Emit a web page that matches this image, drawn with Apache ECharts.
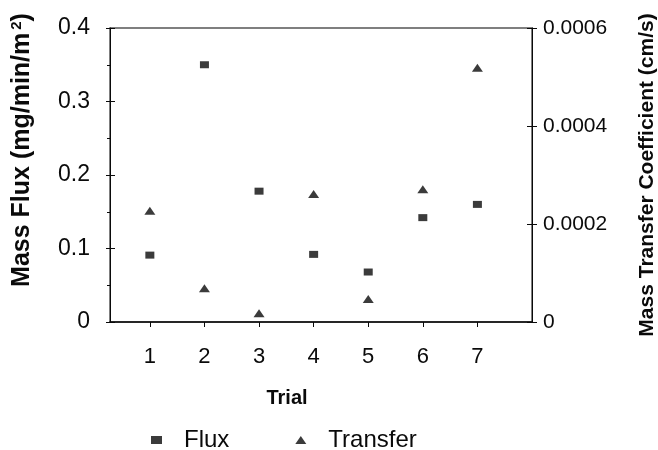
<!DOCTYPE html>
<html>
<head>
<meta charset="utf-8">
<script src="https://cdn.jsdelivr.net/npm/echarts@6/dist/echarts.min.js"></script>
<style>
  html, body { margin: 0; padding: 0; background: #fff; }
  #chart { width: 658px; height: 450px; }
</style>
</head>
<body>
<div id="chart"></div>
<script>
// trials 1..7
var trials = [1, 2, 3, 4, 5, 6, 7];
// mass flux (mg/min/m2), left axis
var flux = [0.091, 0.350, 0.178, 0.092, 0.068, 0.142, 0.160];
// mass transfer coefficient (cm/s), right axis
var transfer = [0.000227, 0.000069, 0.000018, 0.000261, 0.000047, 0.000271, 0.000519];

var font = 'Liberation Sans, Arial, sans-serif';
var ink = '#0a0a0a';

var chart = echarts.init(document.getElementById('chart'));

// extra copies of the axes, only to draw the inner half of the crossing ticks
function innerTicks(base) {
    return Object.assign({}, base, {
        name: '',
        axisLine: { show: false },
        axisLabel: { show: false },
        minorTick: { show: false },
        splitLine: { show: false },
        axisTick: Object.assign({}, base.axisTick, { inside: true, length: 5 })
    });
}

var xMain = {
    type: 'value',
    min: 0.27,
    max: 8,
    name: 'Trial',
    nameLocation: 'middle',
    nameGap: 66,
    nameTextStyle: {
        fontSize: 20,
        fontWeight: 'bold',
        color: ink,
        padding: [0, 68, 0, 0]
    },
    axisLine: { lineStyle: { color: ink, width: 1.5 } },
    axisTick: { customValues: trials, length: 5, lineStyle: { color: ink } },
    axisLabel: { customValues: trials, fontSize: 22, margin: 24, color: ink },
    splitLine: { show: false }
};

var yLeft = {
    type: 'value',
    position: 'left',
    min: 0,
    max: 0.4,
    interval: 0.1,
    name: 'Mass Flux (mg/min/m{sup|2})',
    nameLocation: 'middle',
    nameRotate: 90,
    nameGap: 74,
    nameTextStyle: {
        fontSize: 25,
        fontWeight: 'bold',
        color: ink,
        padding: [0, 0, 0, 50],
        rich: {
            sup: { fontSize: 15, fontWeight: 'bold', verticalAlign: 'top', padding: [0, 0, 12, 3] }
        }
    },
    axisLine: { show: true, lineStyle: { color: ink, width: 1 } },
    axisTick: { show: true, length: 4, lineStyle: { color: ink } },
    minorTick: { show: true, splitNumber: 2, length: 3, lineStyle: { color: ink } },
    axisLabel: { fontSize: 23, margin: 20, color: ink },
    splitLine: { show: false }
};

var yRight = {
    type: 'value',
    position: 'right',
    min: 0,
    max: 0.0006,
    interval: 0.0002,
    name: 'Mass Transfer Coefficient (cm/s)',
    nameLocation: 'middle',
    nameRotate: 90,
    nameGap: 105,
    nameTextStyle: {
        fontSize: 21,
        fontWeight: 'bold',
        color: ink
    },
    axisLine: { show: true, lineStyle: { color: ink, width: 1 } },
    axisTick: { show: true, length: 5, lineStyle: { color: ink } },
    axisLabel: {
        fontSize: 21,
        margin: 11,
        color: ink,
        formatter: function (v) { return v === 0 ? '0' : v.toFixed(4); }
    },
    splitLine: { show: false }
};

var option = {
    animation: false,
    backgroundColor: '#fff',
    textStyle: { fontFamily: font, color: ink },
    grid: {
        left: 110,
        right: 126,
        top: 28,
        bottom: 128,
        outerBoundsMode: 'none',
        show: true,
        borderColor: '#555',
        borderWidth: 1.5
    },
    legend: {
        left: 146,
        top: 423,
        itemWidth: 11,
        itemHeight: 8,
        itemGap: 66,
        data: [
            { name: 'Flux', icon: 'rect' },
            { name: 'Transfer', icon: 'triangle' }
        ],
        textStyle: {
            fontSize: 24,
            color: ink,
            padding: [0, 0, 0, 17]
        }
    },
    xAxis: [xMain, innerTicks(xMain)],
    yAxis: [yLeft, yRight, innerTicks(yLeft), innerTicks(yRight)],
    series: [{
        name: 'Flux',
        type: 'scatter',
        yAxisIndex: 0,
        symbol: 'rect',
        symbolSize: [9, 7],
        itemStyle: { color: ink },
        data: trials.map(function (t, i) { return [t, flux[i]]; })
    }, {
        name: 'Transfer',
        type: 'scatter',
        yAxisIndex: 1,
        symbol: 'triangle',
        symbolSize: [11, 8],
        itemStyle: { color: ink },
        data: trials.map(function (t, i) { return [t, transfer[i]]; })
    }]
};

chart.setOption(option);
</script>
</body>
</html>
